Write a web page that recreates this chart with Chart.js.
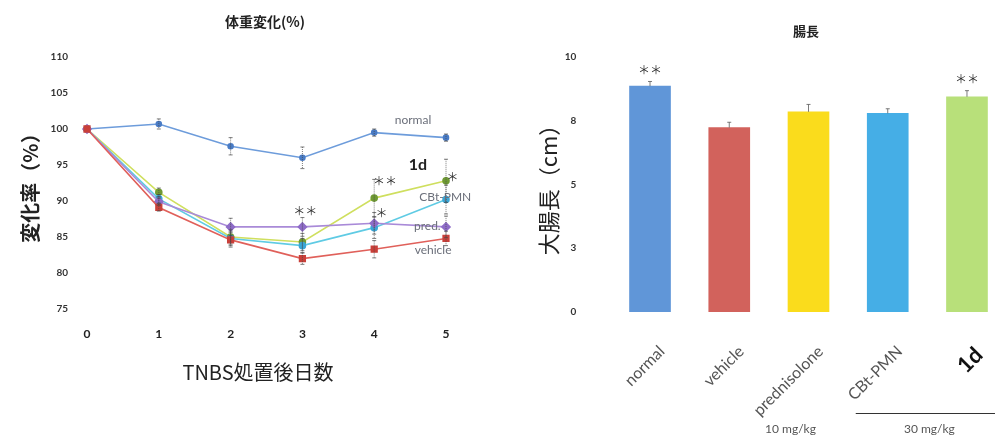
<!DOCTYPE html>
<html>
<head>
<meta charset="utf-8">
<script src="https://cdn.jsdelivr.net/npm/chart.js@4.4.0/dist/chart.umd.min.js"></script>
<style>
  html, body { margin: 0; padding: 0; background: #fff; width: 995px; height: 439px; overflow: hidden; position: relative; }
  #wrapWeight { position: absolute; left: 0; top: 0; width: 530px; height: 439px; }
  #wrapColon { position: absolute; left: 520px; top: 0; width: 572px; height: 439px; }
</style>
</head>
<body>
<div id="wrapWeight"><canvas id="weight"></canvas></div>
<div id="wrapColon"><canvas id="colon"></canvas></div>
<script>
// ---- body weight change (%) after TNBS treatment ----
const days = [0, 1, 2, 3, 4, 5];
const weightTicks = [75, 80, 85, 90, 95, 100, 105, 110];

const normalWeight  = [100, 100.7, 97.6, 96.0, 99.5, 98.8];
const vehicleWeight = [100, 89.1, 84.6, 82.0, 83.3, 84.8];
const predWeight    = [100, 89.9, 86.4, 86.4, 86.9, 86.4];
const cbtWeight     = [100, 90.3, 84.8, 83.8, 86.3, 90.2];
const d1Weight      = [100, 91.2, 85.0, 84.3, 90.4, 92.8];

const normalErr  = [0, 0.7, 1.2, 1.5, 0.5, 0.5];
const vehicleErr = [0, 0.5, 1.0, 0.8, 1.2, 1.0];
const predErr    = [0, 0.5, 1.2, 1.3, 1.5, 1.5];
const cbtErr     = [0, 0.6, 1.0, 1.0, 1.5, 2.0];
const d1Err      = [0, 0.6, 1.0, 1.2, 2.6, 3.0];

// ---- colon length (cm) ----
const groups = ['normal', 'vehicle', 'prednisolone', 'CBt-PMN', '1d'];
const colonLength = [8.86, 7.23, 7.85, 7.79, 8.44];
const colonErr    = [0.18, 0.21, 0.29, 0.18, 0.24];
const colonSig    = ['＊＊', '', '', '', '＊＊'];
const lengthTicks = [0, 2.5, 5, 7.5, 10];

const CJK = '"Noto Sans CJK JP", "Noto Sans", sans-serif';
const LAT = 'Lato, "Open Sans", sans-serif';

// Text notes placed in data coordinates of the weight chart
const weightNotes = [
  { text: 'normal',  x: 4.54, y: 101.3, font: `12px ${LAT}`, color: '#6b6f7a' },
  { text: '1d',      x: 4.61, y: 95.0,  font: `bold 16px ${LAT}`, color: '#222' },
  { text: 'CBt-PMN', x: 4.99, y: 90.6,  font: `12px ${LAT}`, color: '#6b6f7a' },
  { text: 'pred.',   x: 4.74, y: 86.5,  font: `12px ${LAT}`, color: '#6b6f7a' },
  { text: 'vehicle', x: 4.82, y: 83.2,  font: `12px ${LAT}`, color: '#6b6f7a' },
  { text: '＊＊',    x: 3.04, y: 88.6,  font: `12px ${CJK}`, color: '#333' },
  { text: '＊＊',    x: 4.15, y: 92.7,  font: `12px ${CJK}`, color: '#333' },
  { text: '＊',      x: 4.10, y: 88.3,  font: `12px ${CJK}`, color: '#333' },
  { text: '＊',      x: 5.09, y: 93.3,  font: `12px ${CJK}`, color: '#333' }
];

// Draws error bars from the dataset's `errors` array
const errorBars = {
  id: 'errorBars',
  afterDatasetsDraw(chart) {
    const ctx = chart.ctx;
    const yScale = chart.scales.y;
    chart.data.datasets.forEach((ds, di) => {
      if (!ds.errors) return;
      const meta = chart.getDatasetMeta(di);
      meta.data.forEach((el, i) => {
        const err = ds.errors[i];
        if (!err) return;
        const v = typeof ds.data[i] === 'object' ? ds.data[i].y : ds.data[i];
        const top = yScale.getPixelForValue(v + err);
        const bot = ds.errorUpOnly ? el.y : yScale.getPixelForValue(v - err);
        ctx.save();
        ctx.strokeStyle = ds.errorColor || 'rgba(70,70,70,0.7)';
        ctx.lineWidth = 1;
        if (ds.errorDash) ctx.setLineDash(ds.errorDash);
        ctx.beginPath();
        ctx.moveTo(el.x, top); ctx.lineTo(el.x, bot);
        ctx.stroke();
        ctx.setLineDash([]);
        const cw = ds.errorCap || 2;
        ctx.beginPath();
        ctx.moveTo(el.x - cw, top); ctx.lineTo(el.x + cw, top);
        if (!ds.errorUpOnly) { ctx.moveTo(el.x - cw, bot); ctx.lineTo(el.x + cw, bot); }
        ctx.stroke();
        ctx.restore();
      });
    });
  }
};

// Draws the text notes of a chart (options.plugins.notes.items)
const notes = {
  id: 'notes',
  afterDraw(chart, args, opts) {
    const ctx = chart.ctx;
    (opts.items || []).forEach(n => {
      ctx.save();
      ctx.font = n.font;
      ctx.fillStyle = n.color;
      ctx.textAlign = 'center';
      ctx.textBaseline = 'middle';
      ctx.fillText(n.text, chart.scales.x.getPixelForValue(n.x), chart.scales.y.getPixelForValue(n.y));
      ctx.restore();
    });
  }
};

// Chart heading drawn at a fixed spot of the canvas (options.plugins.heading)
const heading = {
  id: 'heading',
  afterDraw(chart, args, opts) {
    const ctx = chart.ctx;
    ctx.save();
    ctx.font = opts.font;
    ctx.fillStyle = opts.color;
    ctx.textAlign = 'center';
    ctx.textBaseline = 'middle';
    ctx.fillText(opts.text, opts.x, opts.y);
    ctx.restore();
  }
};

function series(label, values, errs, line, point, style, radius) {
  return {
    label,
    data: days.map((d, i) => ({ x: d, y: values[i] })),
    errors: errs,
    errorDash: [1, 1],
    borderColor: line,
    backgroundColor: point,
    pointBackgroundColor: point,
    pointBorderColor: point,
    pointStyle: style,
    pointRadius: radius,
    borderWidth: 1.6,
    tension: 0,
    clip: false
  };
}

new Chart(document.getElementById('weight'), {
  type: 'line',
  data: {
    datasets: [
      series('vehicle', vehicleWeight, vehicleErr, '#e0605a', '#c9403a', 'rect', 4),
      series('pred.', predWeight, predErr, '#a98ad8', '#8e6cc8', 'rectRot', 4),
      series('CBt-PMN', cbtWeight, cbtErr, '#5fcbe4', '#3aa6d6', 'circle', 3),
      series('1d', d1Weight, d1Err, '#cfdf5e', '#6f9a34', 'circle', 3),
      series('normal', normalWeight, normalErr, '#6d9cdb', '#4a7cc6', 'circle', 2.5)
    ]
  },
  options: {
    responsive: true,
    maintainAspectRatio: false,
    animation: false,
    layout: { padding: { left: 0, right: 84, top: 57, bottom: 0 } },
    plugins: {
      legend: { display: false },
      tooltip: { enabled: false },
      title: { display: false },
      heading: { text: '体重変化(%)', x: 265, y: 22, color: '#222', font: `bold 14px ${CJK}` },
      notes: { items: weightNotes }
    },
    scales: {
      x: {
        type: 'linear',
        min: -0.237,
        max: 5.0,
        afterBuildTicks: s => { s.ticks = days.map(v => ({ value: v })); },
        afterFit: s => { s.height = 130; },
        grid: { display: false, drawTicks: false },
        border: { display: false },
        ticks: { padding: 18, color: '#222', font: { family: LAT, size: 12, weight: 'bold' } },
        title: {
          display: true,
          text: 'TNBS処置後日数',
          color: '#222',
          font: { family: CJK, size: 20 },
          padding: { top: 0, bottom: 55 }
        }
      },
      y: {
        min: 75,
        max: 110,
        afterBuildTicks: s => { s.ticks = weightTicks.map(v => ({ value: v })); },
        afterFit: s => { s.width = 70; },
        grid: { display: false, drawTicks: false },
        border: { display: false },
        ticks: { padding: 2, color: '#333', font: { family: LAT, size: 10, weight: 'bold' } },
        title: {
          display: true,
          text: '変化率（%）',
          color: '#222',
          font: { family: CJK, size: 20, weight: 'bold' },
          padding: { top: 18 }
        }
      }
    }
  },
  plugins: [errorBars, notes, heading]
});

// Dose captions under the group labels and significance marks over the bars
const doseCaptions = {
  id: 'doseCaptions',
  afterDraw(chart) {
    const ctx = chart.ctx;
    const x = chart.scales.x;
    ctx.save();
    ctx.strokeStyle = '#333';
    ctx.lineWidth = 1.2;
    ctx.beginPath();
    ctx.moveTo(x.getPixelForValue(3) - 32, 413.5);
    ctx.lineTo(x.getPixelForValue(4) + 28, 413.5);
    ctx.stroke();
    ctx.font = `12px ${LAT}`;
    ctx.fillStyle = '#555';
    ctx.textAlign = 'center';
    ctx.textBaseline = 'middle';
    ctx.fillText('10 mg/kg', x.getPixelForValue(2) - 18, 429);
    ctx.fillText('30 mg/kg', (x.getPixelForValue(3) + x.getPixelForValue(4)) / 2 + 2, 429);
    ctx.font = `12px ${CJK}`;
    ctx.fillStyle = '#333';
    colonSig.forEach((s, i) => {
      if (!s) return;
      const top = chart.scales.y.getPixelForValue(colonLength[i] + colonErr[i]);
      ctx.fillText(s, x.getPixelForValue(i), top - 11);
    });
    ctx.restore();
  }
};

new Chart(document.getElementById('colon'), {
  type: 'bar',
  data: {
    labels: groups,
    datasets: [{
      data: colonLength,
      errors: colonErr,
      errorUpOnly: true,
      errorCap: 2,
      errorColor: 'rgba(90,90,90,0.8)',
      backgroundColor: ['#6096d8', '#d2625c', '#fadc1c', '#45aee6', '#b8e07a'],
      borderWidth: 0,
      barThickness: 41
    }]
  },
  options: {
    responsive: true,
    maintainAspectRatio: false,
    animation: false,
    layout: { padding: { left: 0, right: 85.4, top: 57, bottom: 0 } },
    plugins: {
      legend: { display: false },
      tooltip: { enabled: false },
      title: { display: false },
      heading: { text: '腸長', x: 286, y: 31, color: '#222', font: `bold 13px ${CJK}` }
    },
    scales: {
      x: {
        afterFit: s => { s.height = 127; },
        grid: { display: false, drawTicks: false },
        border: { display: false },
        ticks: {
          minRotation: 45,
          maxRotation: 45,
          padding: 30,
          labelOffset: 12,
          color: ctx => ctx.index === 4 ? '#111' : '#555',
          font: ctx => ctx.index === 4
            ? { family: LAT, size: 22, weight: 'bold' }
            : { family: LAT, size: 16 }
        }
      },
      y: {
        min: 0,
        max: 10,
        afterBuildTicks: s => { s.ticks = lengthTicks.map(v => ({ value: v })); },
        afterFit: s => { s.width = 90.4; },
        grid: { display: false, drawTicks: false },
        border: { display: false },
        ticks: {
          padding: 34,
          color: '#333',
          font: { family: LAT, size: 10, weight: 'bold' },
          callback: v => String(Math.round(v))
        },
        title: {
          display: true,
          text: '大腸長（cm）',
          color: '#222',
          font: { family: CJK, size: 22 },
          padding: { top: 15 }
        }
      }
    }
  },
  plugins: [errorBars, doseCaptions, heading]
});
</script>
</body>
</html>
